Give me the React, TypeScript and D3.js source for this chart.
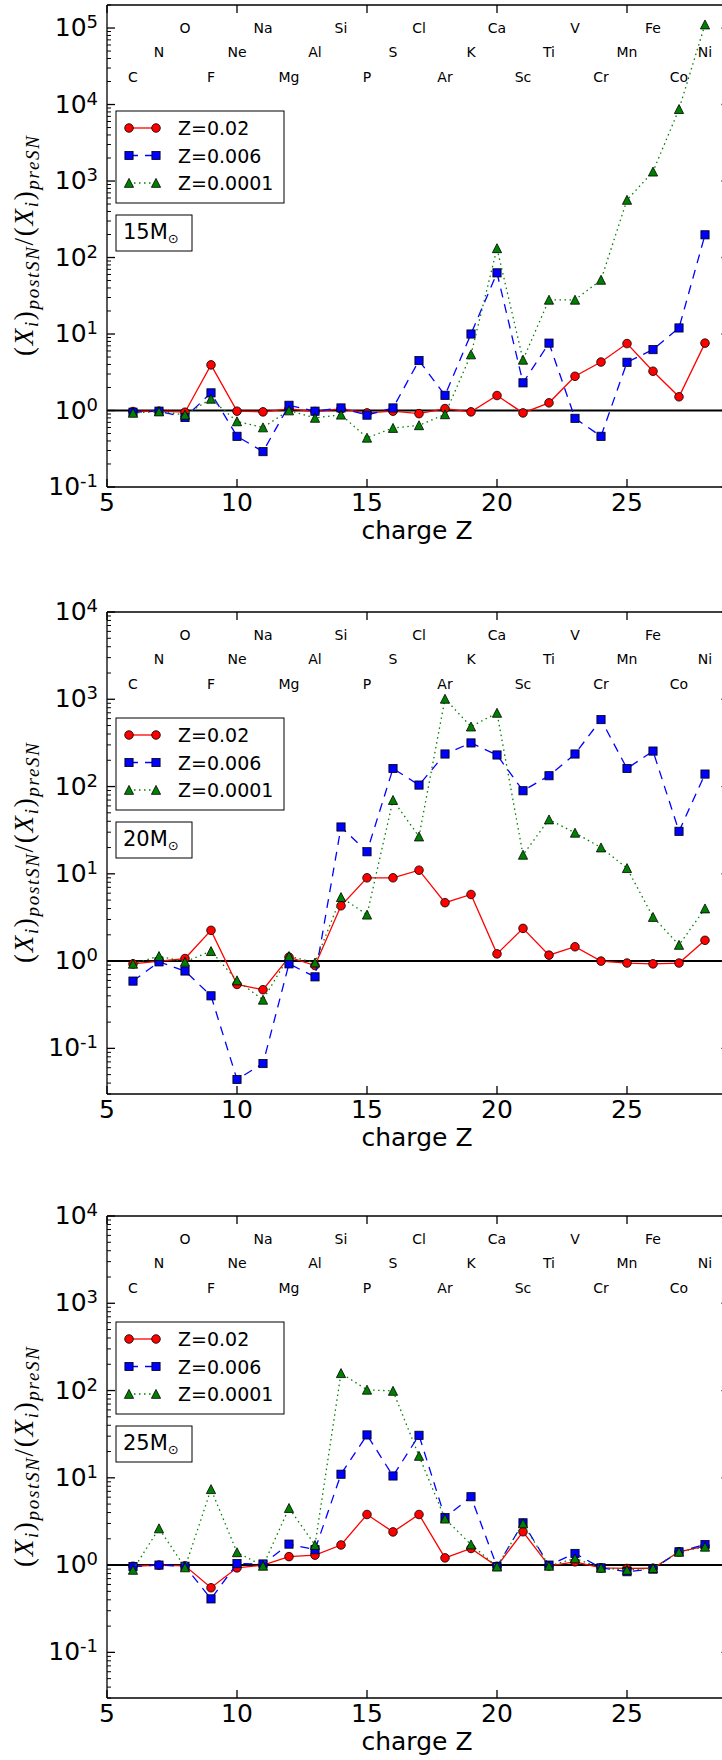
import React from "react";
import * as d3 from "d3";

// Nuclear charge of each element and its symbol
const charge = [6, 7, 8, 9, 10, 11, 12, 13, 14, 15, 16, 17, 18, 19, 20, 21, 22, 23, 24, 25, 26, 27, 28];
const elements = ["C", "N", "O", "F", "Ne", "Na", "Mg", "Al", "Si", "P", "S", "Cl", "Ar", "K", "Ca", "Sc", "Ti", "V", "Cr", "Mn", "Fe", "Co", "Ni"];

// Ratio of post-SN to pre-SN mass fractions, 15 Msun
const m15_Z002 = [0.97, 0.98, 0.95, 3.95, 0.98, 0.96, 1.05, 0.97, 1.05, 0.93, 0.98, 0.91, 1.06, 0.96, 1.57, 0.93, 1.26, 2.8, 4.3, 7.5, 3.26, 1.51, 7.6];
const m15_Z0006 = [0.95, 0.98, 0.81, 1.7, 0.46, 0.29, 1.17, 0.98, 1.08, 0.87, 1.08, 4.5, 1.58, 10, 63, 2.3, 7.6, 0.79, 0.46, 4.27, 6.25, 12, 198];
const m15_Z00001 = [0.93, 0.97, 0.88, 1.42, 0.72, 0.6, 1.0, 0.8, 0.88, 0.44, 0.59, 0.64, 0.89, 5.4, 132, 4.6, 28, 28, 51, 566, 1325, 8710, 111000];

// 20 Msun
const m20_Z002 = [0.93, 1.0, 1.07, 2.25, 0.54, 0.47, 1.11, 0.89, 4.3, 9.0, 9.0, 11, 4.67, 5.8, 1.21, 2.37, 1.17, 1.46, 1.0, 0.95, 0.93, 0.95, 1.73];
const m20_Z0006 = [0.59, 0.98, 0.77, 0.4, 0.044, 0.067, 0.93, 0.66, 34.4, 17.9, 161, 104, 236, 316, 230, 89.5, 133, 236, 585, 161, 255, 30.7, 139];
const m20_Z00001 = [0.93, 1.14, 0.98, 1.3, 0.6, 0.36, 1.14, 0.96, 5.4, 3.4, 70, 26.7, 1011, 486, 698, 16.5, 41.9, 29.5, 20, 11.6, 3.2, 1.53, 4.0];

// 25 Msun
const m25_Z002 = [0.97, 1.0, 0.98, 0.55, 0.93, 1.0, 1.25, 1.3, 1.7, 3.8, 2.4, 3.8, 1.21, 1.55, 0.97, 2.41, 0.98, 1.09, 0.93, 0.915, 0.92, 1.42, 1.65];
const m25_Z0006 = [0.96, 1.0, 0.97, 0.41, 1.04, 1.03, 1.74, 1.5, 11, 31, 10.5, 30.7, 3.5, 6.07, 0.96, 3.05, 1.0, 1.36, 0.93, 0.84, 0.9, 1.42, 1.72];
const m25_Z00001 = [0.88, 2.63, 0.94, 7.4, 1.4, 0.98, 4.5, 1.7, 158, 102, 99, 17.8, 3.4, 1.72, 0.96, 3.0, 0.98, 1.19, 0.93, 0.88, 0.92, 1.42, 1.62];

const seriesLabels = ["Z=0.02", "Z=0.006", "Z=0.0001"];
const xTicks = [5, 10, 15, 20, 25];

const W = 722;
const H = 1760;
const X0 = 107;
const X1 = 731;
const PH = 482;
const SANS = "DejaVu Sans, Verdana, sans-serif";
const SERIF = "Liberation Serif, Times New Roman, serif";

const styles = [
  { color: "#ff0000", dash: null as string | null, marker: "circle" },
  { color: "#0000ff", dash: "9,7", marker: "square" },
  { color: "#008000", dash: "1.5,3.5", marker: "triangle" },
];

const panels = [
  { mass: "15", top: 5, domain: [0.1, 2e5], data: [m15_Z002, m15_Z0006, m15_Z00001] },
  { mass: "20", top: 612, domain: [0.03, 1e4], data: [m20_Z002, m20_Z0006, m20_Z00001] },
  { mass: "25", top: 1216, domain: [0.03, 1e4], data: [m25_Z002, m25_Z0006, m25_Z00001] },
];

function Marker({ kind, x, y, color }: { kind: string; x: number; y: number; color: string }) {
  const sw = 0.8;
  if (kind === "circle") return <circle cx={x} cy={y} r={4.3} fill={color} stroke="#000" strokeWidth={sw} />;
  if (kind === "square") return <rect x={x - 4.1} y={y - 4.1} width={8.2} height={8.2} fill={color} stroke="#000" strokeWidth={sw} />;
  const s = 4.6;
  return <path d={`M${x},${y - s}L${x + s},${y + s * 0.95}L${x - s},${y + s * 0.95}Z`} fill={color} stroke="#000" strokeWidth={sw} />;
}

function Panel({ idx, mass, top, domain, data }: { idx: number; mass: string; top: number; domain: number[]; data: number[][] }) {
  const bottom = top + PH;
  const x = d3.scaleLinear().domain([5, 29]).range([X0, X1]);
  const y = d3.scaleLog().domain(domain).range([bottom, top]);
  const lo = Math.floor(Math.log10(domain[0]));
  const hi = Math.ceil(Math.log10(domain[1]));
  const major: number[] = [];
  const minor: number[] = [];
  for (let e = lo; e <= hi; e++) {
    const base = Math.pow(10, e);
    if (base >= domain[0] * 0.999 && base <= domain[1] * 1.001) major.push(e);
    for (let m = 2; m <= 9; m++) {
      const v = m * base;
      if (v >= domain[0] && v <= domain[1]) minor.push(v);
    }
  }
  const clipId = `clip-${idx}`;
  const cy = (top + bottom) / 2;
  const sub = 19;

  return (
    <g>
      <defs>
        <clipPath id={clipId}>
          <rect x={X0} y={top} width={X1 - X0} height={PH} />
        </clipPath>
      </defs>

      {/* element symbols in three staggered rows */}
      {charge.map((z, i) => {
        const row = z % 3 === 2 ? 0 : z % 3 === 1 ? 1 : 2;
        const off = [23, 47, 72][row];
        return (
          <text key={`el-${z}`} x={x(z)} y={top + off + 5} textAnchor="middle" fontFamily={SANS} fontSize={14} fill="#000">
            {elements[i]}
          </text>
        );
      })}

      {/* reference line at unity */}
      <line x1={X0} x2={X1} y1={y(1)} y2={y(1)} stroke="#000" strokeWidth={2} clipPath={`url(#${clipId})`} />

      {/* series */}
      <g clipPath={`url(#${clipId})`}>
        {data.map((vals, s) => {
          const st = styles[s];
          const line = d3
            .line<number>()
            .x((_, i) => x(charge[i]))
            .y((v) => y(v));
          return (
            <g key={`s-${s}`}>
              <path d={line(vals) || ""} fill="none" stroke={st.color} strokeWidth={1.3} strokeDasharray={st.dash || undefined} />
              {vals.map((v, i) => (
                <Marker key={i} kind={st.marker} x={x(charge[i])} y={y(v)} color={st.color} />
              ))}
            </g>
          );
        })}
      </g>

      {/* spines */}
      <line x1={X0} x2={X0} y1={top} y2={bottom} stroke="#000" strokeWidth={1.3} />
      <line x1={X1} x2={X1} y1={top} y2={bottom} stroke="#000" strokeWidth={1.3} />
      <line x1={X0} x2={X1} y1={top} y2={top} stroke="#000" strokeWidth={1.3} />
      <line x1={X0} x2={X1} y1={bottom} y2={bottom} stroke="#000" strokeWidth={1.3} />

      {/* x ticks */}
      {xTicks.map((t) => (
        <g key={`xt-${t}`}>
          <line x1={x(t)} x2={x(t)} y1={bottom} y2={bottom - 8} stroke="#000" strokeWidth={1.3} />
          <line x1={x(t)} x2={x(t)} y1={top} y2={top + 8} stroke="#000" strokeWidth={1.3} />
          <text x={x(t)} y={bottom + 24} textAnchor="middle" fontFamily={SANS} fontSize={25} fill="#000">
            {t}
          </text>
        </g>
      ))}
      <text x={(X0 + X1) / 2 - 2} y={bottom + 52} textAnchor="middle" fontFamily={SANS} fontSize={25} fill="#000">
        charge Z
      </text>

      {/* y ticks */}
      {major.map((e) => {
        const yy = y(Math.pow(10, e));
        return (
          <g key={`yt-${e}`}>
            <line x1={X0} x2={X0 + 8} y1={yy} y2={yy} stroke="#000" strokeWidth={1.3} />
            <line x1={X1} x2={X1 - 9.5} y1={yy} y2={yy} stroke="#000" strokeWidth={1.3} />
            <text x={98} y={yy + 8} textAnchor="end" fontFamily={SANS} fontSize={25} fill="#000">
              10
              <tspan fontSize={18} dy={-8}>
                {e < 0 ? `-${-e}` : `${e}`}
              </tspan>
            </text>
          </g>
        );
      })}
      {minor.map((v, i) => {
        const yy = y(v);
        return (
          <g key={`ym-${i}`}>
            <line x1={X0} x2={X0 + 4} y1={yy} y2={yy} stroke="#000" strokeWidth={1} />
            <line x1={X1} x2={X1 - 4} y1={yy} y2={yy} stroke="#000" strokeWidth={1} />
          </g>
        );
      })}

      {/* y axis label */}
      <text
        transform={`translate(33,${cy}) rotate(-90)`}
        textAnchor="middle"
        fontFamily={SERIF}
        fontSize={27}
        fill="#000"
        textLength={220}
        lengthAdjust="spacing"
      >
        <tspan>(</tspan>
        <tspan fontStyle="italic">X</tspan>
        <tspan fontStyle="italic" fontSize={sub} dy={5}>i</tspan>
        <tspan dy={-5}>)</tspan>
        <tspan fontStyle="italic" fontSize={sub} dy={6}>postSN</tspan>
        <tspan dy={-6}>/(</tspan>
        <tspan fontStyle="italic">X</tspan>
        <tspan fontStyle="italic" fontSize={sub} dy={5}>i</tspan>
        <tspan dy={-5}>)</tspan>
        <tspan fontStyle="italic" fontSize={sub} dy={6}>preSN</tspan>
      </text>

      {/* legend */}
      <rect x={116} y={top + 106} width={168} height={92} fill="#fff" stroke="#000" strokeWidth={1} />
      {seriesLabels.map((lab, s) => {
        const st = styles[s];
        const ly = top + 123 + s * 27.5;
        return (
          <g key={`lg-${s}`}>
            <line x1={129} x2={156} y1={ly} y2={ly} stroke={st.color} strokeWidth={1.3} strokeDasharray={st.dash || undefined} />
            <Marker kind={st.marker} x={129} y={ly} color={st.color} />
            <Marker kind={st.marker} x={156} y={ly} color={st.color} />
            <text x={178} y={ly + 7} fontFamily={SANS} fontSize={19} fill="#000">
              {lab}
            </text>
          </g>
        );
      })}

      {/* progenitor mass */}
      <rect x={116} y={top + 210} width={76} height={36} fill="#fff" stroke="#000" strokeWidth={1} />
      <text x={123} y={top + 234} fontFamily={SANS} fontSize={21} fill="#000">
        {mass}M
        <tspan fontSize={13} dy={4}>{"\u2299"}</tspan>
      </text>
    </g>
  );
}

export default function App() {
  return (
    <svg
      width={W}
      height={H}
      viewBox={`0 0 ${W} ${H}`}
      style={{ position: "absolute", left: 0, top: 0, display: "block", background: "#fff" }}
    >
      <rect x={0} y={0} width={W} height={H} fill="#fff" />
      {panels.map((p, i) => (
        <Panel key={p.mass} idx={i} mass={p.mass} top={p.top} domain={p.domain} data={p.data} />
      ))}
    </svg>
  );
}
